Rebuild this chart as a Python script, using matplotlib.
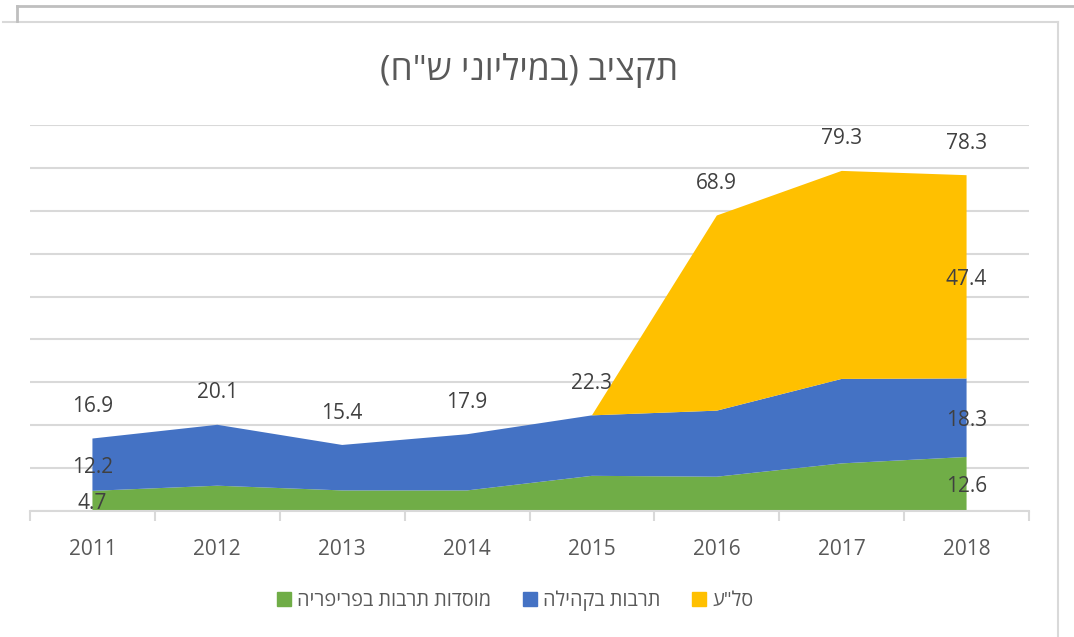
import matplotlib
matplotlib.use("Agg")
import matplotlib.pyplot as plt
from matplotlib.lines import Line2D
from matplotlib.patches import Patch

plt.rcParams["font.family"] = ["Open Sans", "DejaVu Sans"]

years = ["2011", "2012", "2013", "2014", "2015", "2016", "2017", "2018"]
periphery = [4.7, 5.9, 4.8, 4.8, 8.2, 8.0, 11.1, 12.6]
community = [12.2, 14.2, 10.6, 13.1, 14.1, 15.4, 19.7, 18.3]
salaa = [0, 0, 0, 0, 0, 45.5, 48.5, 47.4]
totals = [16.9, 20.1, 15.4, 17.9, 22.3, 68.9, 79.3, 78.3]
# which points get an inner (segment) label
inner_label_idx = {"periphery": [0, 7], "community": [0, 7], "salaa": [7]}

title = 'תקציב (במיליוני ש"ח)'
series_names = ["מוסדות תרבות בפריפריה", "תרבות בקהילה", 'סל"ע']

GREEN = "#70AD47"
BLUE = "#4472C4"
YELLOW = "#FFC000"
GRID = "#D9D9D9"
TEXT = "#595959"
LABEL = "#404040"


def rtl(s):
    # matplotlib has no bidi support: hand it the visual order
    return s[::-1].translate(str.maketrans("()", ")("))


W, H = 1074, 637
fig = plt.figure(figsize=(W / 100, H / 100), dpi=100)
ax = fig.add_axes([30 / W, 1 - 511 / H, 999 / W, 386 / H])

x = list(range(len(years)))
ax.stackplot(x, periphery, community, salaa,
             colors=[GREEN, BLUE, YELLOW], linewidth=0, zorder=2)

ax.set_xlim(-0.5, len(years) - 0.5)
ax.set_ylim(0, 90)
ax.set_yticks(range(0, 91, 10))
ax.yaxis.grid(True, color=GRID, linewidth=1.5, zorder=0)
ax.set_axisbelow(True)
ax.tick_params(axis="y", left=False, labelleft=False)

ax.set_xticks(x)
ax.set_xticklabels(years, fontsize=15, color=TEXT)
ax.set_xticks([i - 0.5 for i in range(len(years) + 1)], minor=True)
ax.tick_params(axis="x", which="major", length=0, pad=20)
ax.tick_params(axis="x", which="minor", length=7, width=1.5, color=GRID)

for side in ["top", "right", "left"]:
    ax.spines[side].set_visible(False)
ax.spines["bottom"].set_color(GRID)
ax.spines["bottom"].set_linewidth(1.5)

# total labels above stack
for i, t in enumerate(totals):
    ax.annotate(f"{t:.1f}", (i, t), xytext=(0, 23), textcoords="offset points",
                ha="center", va="center", fontsize=15, color=LABEL, zorder=5)

# segment labels
bottoms = [0] * len(years)
for key, vals in [("periphery", periphery), ("community", community), ("salaa", salaa)]:
    for i in inner_label_idx[key]:
        mid = bottoms[i] + vals[i] / 2
        ax.annotate(f"{vals[i]:.1f}", (i, mid), xytext=(0, -2), textcoords="offset points",
                    ha="center", va="center", fontsize=15, color=LABEL, zorder=5)
    bottoms = [b + v for b, v in zip(bottoms, vals)]

fig.text(529.5 / W, 1 - 70 / H, rtl(title), ha="center", va="center",
         fontsize=25.5, color=TEXT)

handles = [Patch(color=c, label=rtl(n)) for c, n in zip([GREEN, BLUE, YELLOW], series_names)]
fig.legend(handles=handles, loc="center", bbox_to_anchor=(515 / W, 1 - 601 / H),
           ncol=3, frameon=False, fontsize=14.3, labelcolor=TEXT,
           handlelength=0.72, handleheight=0.72, handletextpad=0.3, columnspacing=1.6)

# chart frame bits at the edges of the screenshot
fig.add_artist(Line2D([3 / W, 1058 / W], [1 - 22 / H, 1 - 22 / H], color=GRID, linewidth=1.5))
fig.add_artist(Line2D([1058 / W, 1058 / W], [1 - 22 / H, 0], color=GRID, linewidth=1.5))
fig.add_artist(Line2D([16.5 / W, 1], [1 - 5.5 / H, 1 - 5.5 / H], color="#BFBFBF", linewidth=2))
fig.add_artist(Line2D([16.5 / W, 16.5 / W], [1 - 5.5 / H, 1 - 21 / H], color="#BFBFBF", linewidth=2))

fig.savefig("out.png", dpi=100)
